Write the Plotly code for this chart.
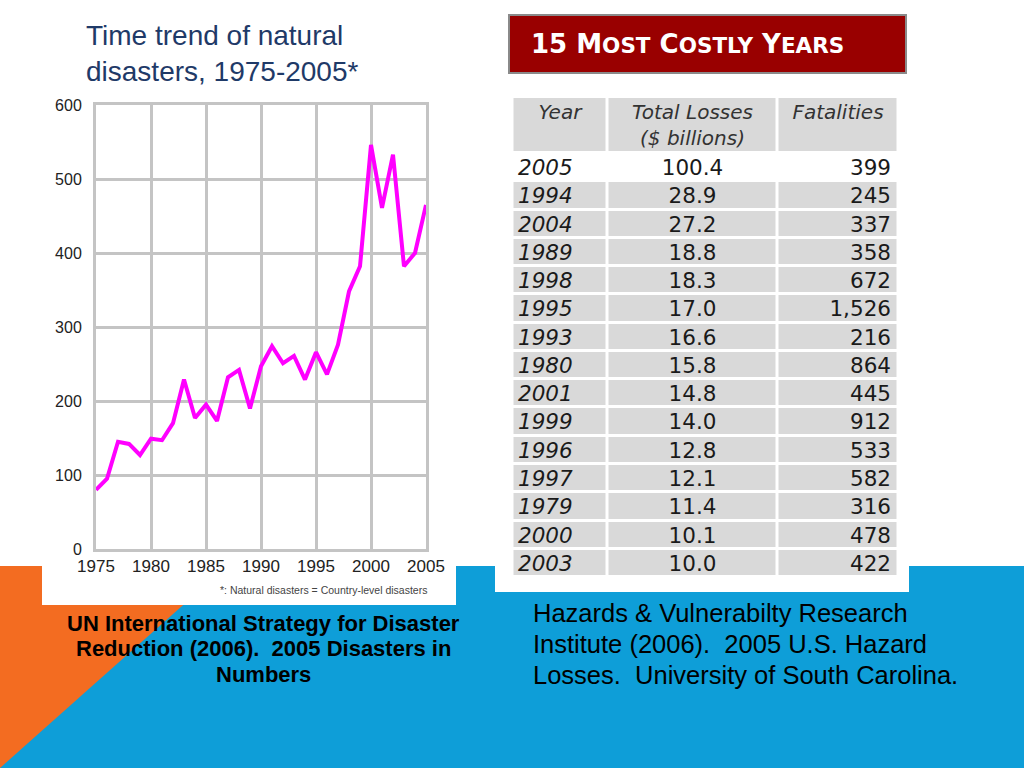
import plotly.graph_objects as go

# ---------------- data ----------------
years = list(range(1975, 2006))
disasters = [80, 95, 145, 142, 127, 149, 147, 170, 229, 177,
             195, 173, 232, 242, 190, 247, 274, 251, 261, 229,
             266, 236, 276, 348, 382, 546, 461, 533, 382, 400, 465]
x_ticks = [1975, 1980, 1985, 1990, 1995, 2000, 2005]
y_ticks = [0, 100, 200, 300, 400, 500, 600]

table_years = ["2005", "1994", "2004", "1989", "1998", "1995", "1993", "1980",
               "2001", "1999", "1996", "1997", "1979", "2000", "2003"]
table_losses = ["100.4", "28.9", "27.2", "18.8", "18.3", "17.0", "16.6", "15.8",
                "14.8", "14.0", "12.8", "12.1", "11.4", "10.1", "10.0"]
table_fatalities = ["399", "245", "337", "358", "672", "1,526", "216", "864",
                    "445", "912", "533", "582", "316", "478", "422"]
table_headers = ["Year", "Total Losses<br>($ billions)", "Fatalities"]

left_caption = ["UN International Strategy for Disaster",
                "Reduction (2006).  2005 Disasters in",
                "Numbers"]
right_caption = ["Hazards & Vulnerabilty Research",
                 "Institute (2006).  2005 U.S. Hazard",
                 "Losses.  University of South Carolina."]

# ---------------- layout helpers ----------------
W, H = 1024, 768
def px(x):
    return x / W
def py(y):
    return 1 - y / H

BLUE = "#0E9ED8"
ORANGE = "#F36C21"
GRID = "#c4c4c4"
CELL_GRAY = "#d9d9d9"

# table geometry (pixel-like units on its own axes)
col_edges = [-1.5, 93.5, 263.5, 384.5]
header_h = 56
row_h = 28.27
n_rows = len(table_years)
row_edges = [0, header_h] + [header_h + row_h * (i + 1) for i in range(n_rows)]
table_bottom = row_edges[-1]
z_cells = [[1, 1, 1]] + [[0, 0, 0]] + [[1, 1, 1] for _ in range(n_rows - 1)]
row_centers = [header_h + row_h * i + row_h / 2 + 2.5 for i in range(n_rows)]

fig = go.Figure()

# ---- line chart ----
fig.add_trace(go.Scatter(
    x=years, y=disasters, mode="lines",
    line=dict(color="#ff00ff", width=4),
    hoverinfo="skip", showlegend=False, xaxis="x", yaxis="y",
))

# ---- table backgrounds (heatmap bricks with white gaps) ----
fig.add_trace(go.Heatmap(
    x=col_edges, y=row_edges, z=z_cells,
    colorscale=[[0, "white"], [1, CELL_GRAY]], zmin=0, zmax=1,
    showscale=False, xgap=3, ygap=3, hoverinfo="skip",
    xaxis="x2", yaxis="y2",
))

col_year_x, col_loss_x, col_fat_x = 4, 178.5, 377
body_font = dict(family="DejaVu Sans", size=21.5, color="#1a1a1a")

fig.add_trace(go.Scatter(
    x=[col_year_x] * n_rows, y=row_centers, text=table_years, mode="text",
    textposition="middle right",
    textfont=dict(family="DejaVu Sans", size=21.5, color="#1a1a1a", style="italic"),
    hoverinfo="skip", showlegend=False, xaxis="x2", yaxis="y2",
))
fig.add_trace(go.Scatter(
    x=[col_loss_x] * n_rows, y=row_centers, text=table_losses, mode="text",
    textposition="middle center", textfont=body_font,
    hoverinfo="skip", showlegend=False, xaxis="x2", yaxis="y2",
))
fig.add_trace(go.Scatter(
    x=[col_fat_x] * n_rows, y=row_centers, text=table_fatalities, mode="text",
    textposition="middle left", textfont=body_font,
    hoverinfo="skip", showlegend=False, xaxis="x2", yaxis="y2",
))
# header texts
fig.add_trace(go.Scatter(
    x=[(col_edges[0] + col_edges[1]) / 2, (col_edges[1] + col_edges[2]) / 2,
       (col_edges[2] + col_edges[3]) / 2],
    y=[16.5, 29.5, 16.5], text=table_headers, mode="text",
    textposition="middle center",
    textfont=dict(family="DejaVu Sans", size=20, color="#333333", style="italic"),
    hoverinfo="skip", showlegend=False, xaxis="x2", yaxis="y2",
))

shapes = [
    dict(type="rect", xref="paper", yref="paper", x0=0, x1=1, y0=0, y1=py(566),
         fillcolor=BLUE, line=dict(width=0), layer="below"),
    dict(type="path", xref="paper", yref="paper",
         path=f"M 0 {py(566)} L {px(227)} {py(566)} L 0 {py(768)} Z",
         fillcolor=ORANGE, line=dict(width=0), layer="below"),
    dict(type="rect", xref="paper", yref="paper", x0=px(42), x1=px(456), y0=py(605), y1=1,
         fillcolor="white", line=dict(width=0), layer="below"),
    dict(type="rect", xref="paper", yref="paper", x0=px(495), x1=px(909), y0=py(592), y1=1,
         fillcolor="white", line=dict(width=0), layer="below"),
    dict(type="rect", xref="paper", yref="paper", x0=px(509), x1=px(906), y0=py(73), y1=py(15),
         fillcolor="#990000", line=dict(color="#8a8a8a", width=2), layer="below"),
]

sc = "font-size:21.5px"
banner = (f"15 M<span style='{sc}'>OST</span> C<span style='{sc}'>OSTLY</span> "
          f"Y<span style='{sc}'>EARS</span>")

annotations = [
    dict(text="Time trend of natural<br>disasters, 1975-2005*", xref="paper", yref="paper",
         x=px(84), y=py(18), xanchor="left", yanchor="top", showarrow=False, align="left",
         font=dict(family="Liberation Sans", size=28, color="#1f3a68")),
    dict(text="*: Natural disasters = Country-level disasters", xref="paper", yref="paper",
         x=px(429), y=py(590), xanchor="right", yanchor="middle", showarrow=False,
         font=dict(family="Liberation Sans", size=10.5, color="#444444")),
    dict(text=banner, xref="paper", yref="paper",
         x=px(529), y=py(44), xanchor="left", yanchor="middle", showarrow=False,
         font=dict(family="DejaVu Sans", size=26, color="white", weight="bold")),
]
for i, line in enumerate(left_caption):
    annotations.append(dict(
        text=line, xref="paper", yref="paper", x=px(263), y=py(623 + 25.5 * i),
        xanchor="center", yanchor="middle", showarrow=False,
        font=dict(family="Liberation Sans", size=22, color="black", weight="bold")))
for i, line in enumerate(right_caption):
    annotations.append(dict(
        text=line, xref="paper", yref="paper", x=px(531), y=py(613 + 31 * i),
        xanchor="left", yanchor="middle", showarrow=False,
        font=dict(family="Liberation Sans", size=25.5, color="black")))

fig.update_layout(
    width=W, height=H,
    margin=dict(l=0, r=0, t=0, b=0, autoexpand=False),
    paper_bgcolor="white", plot_bgcolor="rgba(0,0,0,0)",
    shapes=shapes, annotations=annotations,
    showlegend=False,
    xaxis=dict(
        domain=[px(96), px(426)], range=[1975, 2005], automargin=False,
        tickvals=x_ticks, ticks="", ticklen=0,
        showgrid=True, gridcolor=GRID, gridwidth=3,
        showline=True, linecolor=GRID, linewidth=3, mirror=True,
        zeroline=False, fixedrange=True,
        tickfont=dict(family="Liberation Sans", size=17, color="#222222"),
    ),
    yaxis=dict(
        domain=[py(549), py(105)], range=[0, 600], automargin=False,
        tickvals=y_ticks, ticks="",
        showgrid=True, gridcolor=GRID, gridwidth=3,
        showline=True, linecolor=GRID, linewidth=3, mirror=True,
        zeroline=False, fixedrange=True, ticklabelstandoff=8,
        tickfont=dict(family="Liberation Sans", size=16, color="#222222"),
    ),
    xaxis2=dict(
        domain=[px(512.5), px(898.5)], range=[col_edges[0], col_edges[-1]],
        anchor="y2", visible=False, fixedrange=True, automargin=False,
    ),
    yaxis2=dict(
        domain=[py(97 + table_bottom), py(97)], range=[table_bottom, 0],
        anchor="x2", visible=False, fixedrange=True, automargin=False,
    ),
)

fig.write_html("out.html", config={"displayModeBar": False},
               post_script="document.body.style.margin='0';")
